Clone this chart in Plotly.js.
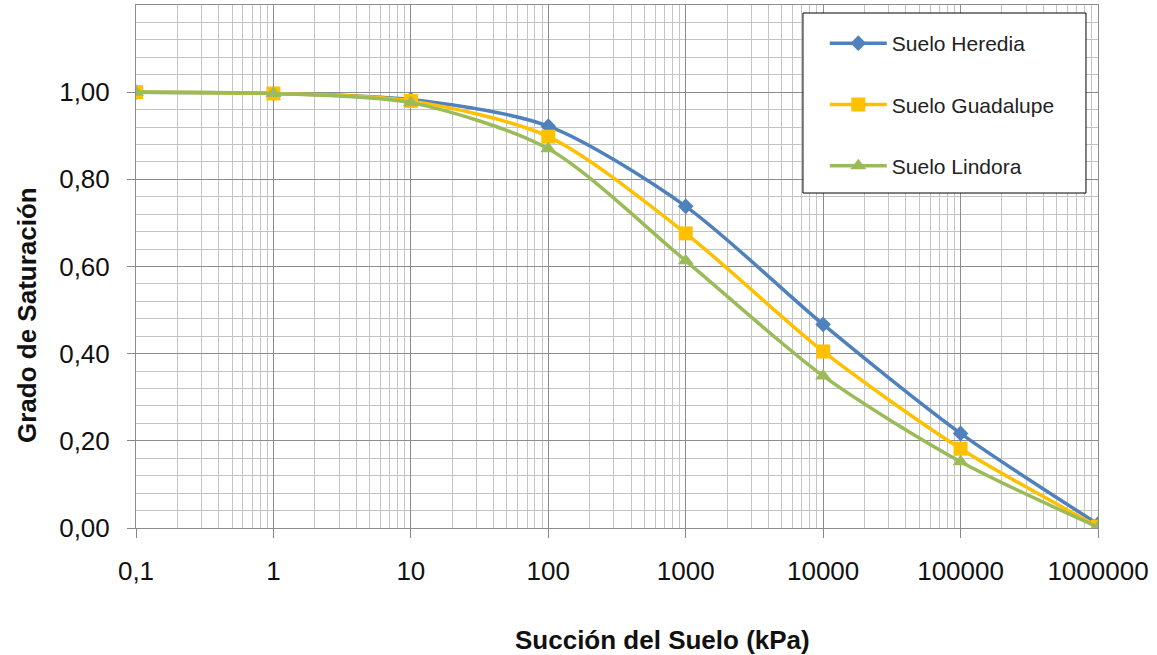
<!DOCTYPE html>
<html>
<head>
<meta charset="utf-8">
<script src="https://cdn.plot.ly/plotly-3.0.1.min.js"></script>
<style>html,body{margin:0;padding:0;background:#fff}#chart{width:1157px;height:655px}</style>
</head>
<body>
<div id="chart"></div>
<script>
const suction = [0.1, 1, 10, 100, 1000, 10000, 100000, 1000000];
const heredia = [1.000, 0.997, 0.983, 0.922, 0.738, 0.467, 0.217, 0.009];
const guadalupe = [1.000, 0.997, 0.980, 0.898, 0.676, 0.405, 0.182, 0.003];
const lindora = [1.000, 0.997, 0.976, 0.870, 0.613, 0.349, 0.152, 0.002];
const seriesNames = ["Suelo Heredia", "Suelo Guadalupe", "Suelo Lindora"];
const xTickVals = [0.1, 1, 10, 100, 1000, 10000, 100000, 1000000];
const xTickText = ["0,1", "1", "10", "100", "1000", "10000", "100000", "1000000"];
const yTickVals = [0, 0.2, 0.4, 0.6, 0.8, 1.0];
const yTickText = ["0,00", "0,20", "0,40", "0,60", "0,80", "1,00"];
const xTitle = "Succión del Suelo (kPa)";
const yTitle = "Grado de Saturación";

const colors = ["#4F81BD", "#FFC000", "#9BBB59"];
const symbols = ["diamond", "square", "triangle-up"];
const sizes = [12, 14, 14];
const values = [heredia, guadalupe, lindora];

const traces = values.map((v, i) => ({
  x: suction, y: v, name: seriesNames[i], type: 'scatter', mode: 'lines+markers',
  legendgroup: 'g' + i,
  line: {color: colors[i], width: 3.5, shape: 'spline', smoothing: 0.8},
  marker: {color: colors[i], symbol: symbols[i], size: sizes[i]}
}));

const font = "Liberation Sans, Arial, sans-serif";
const layout = {
  width: 1157, height: 655,
  margin: {l: 136, r: 59, t: 5, b: 127},
  paper_bgcolor: '#ffffff', plot_bgcolor: '#ffffff',
  font: {family: font, color: '#000', size: 20},
  showlegend: true,
  legend: {
    x: 0.716, y: 0.9656, xanchor: 'left', yanchor: 'top',
    bgcolor: 'rgba(0,0,0,0)', borderwidth: 0,
    font: {family: font, size: 21, color: '#222'},
    traceorder: 'grouped', tracegroupgap: 31, itemwidth: 57
  },
  shapes: [{
    type: 'rect', xref: 'paper', yref: 'paper', layer: 'above',
    x0: 0.6933, x1: 0.9875, y0: 0.6405, y1: 0.9847,
    line: {color: '#000', width: 1}, fillcolor: '#ffffff'
  }],
  annotations: [
    {text: xTitle, xref: 'paper', yref: 'paper', x: 0.5478, y: -0.2141, showarrow: false,
     xanchor: 'center', yanchor: 'middle', font: {size: 26, family: font, weight: 'bold', color: '#111'}},
    {text: yTitle, xref: 'paper', yref: 'paper', x: -0.1133, y: 0.4073, showarrow: false, textangle: -90,
     xanchor: 'center', yanchor: 'middle', font: {size: 26, family: font, weight: 'bold', color: '#111'}}
  ],
  xaxis: {
    type: 'log', range: [-1, 6],
    tickmode: 'array', tickvals: xTickVals, ticktext: xTickText,
    ticks: 'outside', ticklen: 9, tickcolor: '#888', tickwidth: 1,
    ticklabelstandoff: 11,
    tickfont: {size: 26, color: '#111'},
    showgrid: true, gridcolor: '#8c8c8c', gridwidth: 1,
    minor: {dtick: 'D1', showgrid: true, gridcolor: '#c4c4c4', gridwidth: 1, ticks: ''},
    showline: true, linecolor: '#8c8c8c', linewidth: 1, mirror: true,
    zeroline: false, automargin: false
  },
  yaxis: {
    range: [0, 1.2],
    tickmode: 'array', tickvals: yTickVals, ticktext: yTickText,
    ticks: 'outside', ticklen: 8, tickcolor: '#888', tickwidth: 1,
    ticklabelstandoff: 12,
    tickfont: {size: 26, color: '#111'},
    showgrid: true, gridcolor: '#8c8c8c', gridwidth: 1,
    minor: {tickmode: 'linear', tick0: 0, dtick: 0.04, showgrid: true, gridcolor: '#c4c4c4', gridwidth: 1, ticks: ''},
    showline: true, linecolor: '#8c8c8c', linewidth: 1, mirror: true,
    zeroline: false, automargin: false
  }
};

Plotly.newPlot('chart', traces, layout, {displayModeBar: false, staticPlot: true});
</script>
</body>
</html>
